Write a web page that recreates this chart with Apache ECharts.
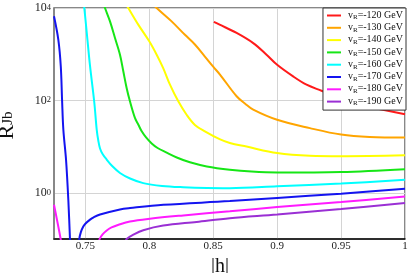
<!DOCTYPE html>
<html><head><meta charset="utf-8">
<script src="https://cdn.jsdelivr.net/npm/echarts@6/dist/echarts.min.js"></script>
<style>html,body{margin:0;padding:0;background:#fff}#c{width:409px;height:273px}</style>
</head><body><div id="c"></div>
<script>
// Legend categories (v_R in GeV, shown as negative)
const vR = [120, 130, 140, 150, 160, 170, 180, 190];
const colors = ['#ff1a1a', '#ffa500', '#ffff00', '#16e616', '#00ffff', '#1414f0', '#ff1aff', '#9a2fd4'];
const yTickExps = [0, 2, 4];

// Series values (|h|, R_Jb); a '-' breaks a curve into branches
const h120 = [0.8505, 0.855, 0.8683, 0.8813, 0.8917, 0.9, 0.9125, 0.923, 0.9347, 0.95, 0.975, 1.0];
const r120 = [5000, 4365, 2884, 1738, 977, 589, 331, 219, 162, 110, 70, 50];

const h130 = [0.800, 0.8058, 0.8175, 0.8279, 0.8357, 0.8435, 0.85, 0.8553, 0.8683, 0.875, 0.8813, 0.9, 0.9256, 0.95, 0.9723, 1.0];
const r130 = [14791, 10000, 5129, 2630, 1622, 891, 537, 363, 123, 85, 63.1, 38.0, 25.1, 18.2, 16.2, 15.8];

const h140 = [0.778, 0.7836, 0.7914, 0.8, 0.8058, 0.8109, 0.8162, 0.8227, 0.8292, 0.8357, 0.8435, 0.855, 0.863, 0.8761, 0.9, 0.9256, 0.95, 1.0];
const r140 = [18197, 10000, 4365, 1905, 977, 501, 219, 95.5, 49.0, 29.5, 21.4, 14.5, 12.0, 10.0, 7.24, 6.31, 6.17, 6.46];

const h150 = [0.763, 0.7654, 0.7693, 0.7732, 0.7771, 0.7797, 0.7823, 0.7849, 0.7888, 0.7914, 0.7941, 0.7975, 0.8019, 0.8065, 0.8136, 0.822, 0.8318, 0.845, 0.863, 0.88, 0.9, 0.95, 1.0];
const r150 = [15849, 10000, 5129, 2239, 977, 427, 186, 95.5, 41.7, 30.2, 21.4, 15.8, 11.7, 9.33, 7.41, 5.75, 4.57, 3.72, 3.16, 2.88, 2.75, 2.82, 3.24];

const h160 = [0.7487, 0.7492, 0.7511, 0.7537, 0.757, 0.7589, 0.7602, 0.7615, 0.7635, 0.7667, 0.771, 0.7771, 0.785, 0.7953, 0.81, 0.8266, 0.845, 0.863, 0.9, 0.95, 1.0];
const r160 = [12589, 10000, 2951, 550, 91.2, 23.4, 13.2, 9.12, 6.92, 5.25, 3.80, 2.69, 2.04, 1.62, 1.41, 1.32, 1.27, 1.26, 1.38, 1.58, 1.91];

const h170 = [0.7255, 0.7289, 0.7308, 0.7318, 0.7328, 0.7349, 0.7367, 0.738, 0.7386, 0.742, 0.7449, 0.7453, 0.7465, 0.7484, 0.75, 0.7537, 0.7565, 0.7615, 0.7771, 0.785, 0.811, 0.863, 0.9, 0.95, 1.0];
const r170 = [6607, 2042, 550, 105, 23.4, 5.25, 0.708, 0.1, 0.04, '-', 0.05, 0.1, 0.141, 0.186, 0.214, 0.263, 0.295, 0.339, 0.437, 0.468, 0.550, 0.661, 0.776, 0.955, 1.23];

const h180 = [0.7255, 0.7307, 0.7317, 0.745, 0.7598, 0.7612, 0.7635, 0.7665, 0.7705, 0.776, 0.7849, 0.8005, 0.8266, 0.863, 0.9, 0.95, 1.0];
const r180 = [0.55, 0.1, 0.063, '-', 0.063, 0.1, 0.126, 0.151, 0.178, 0.204, 0.240, 0.275, 0.324, 0.398, 0.490, 0.631, 0.832];

const h190 = [0.7812, 0.7823, 0.788, 0.7953, 0.8109, 0.837, 0.863, 0.9, 0.95, 1.0];
const r190 = [0.079, 0.1, 0.126, 0.155, 0.195, 0.234, 0.282, 0.339, 0.447, 0.603];

const hs = [h120, h130, h140, h150, h160, h170, h180, h190];
const rs = [r120, r130, r140, r150, r160, r170, r180, r190];

const SERIF = '"Liberation Serif", "DejaVu Serif", serif';
const names = vR.map(v => 'v_R=-' + v + ' GeV');

const series = vR.map((v, i) => ({
  name: names[i],
  type: 'line',
  data: hs[i].map((x, j) => [x, rs[i][j]]),
  showSymbol: false,
  smooth: 0.35,
  connectNulls: false,
  clip: true,
  lineStyle: { width: 2, color: colors[i] },
  itemStyle: { color: colors[i] },
  z: 2
}));

const chart = echarts.init(document.getElementById('c'), null, { renderer: 'canvas' });
chart.setOption({
  animation: false,
  backgroundColor: '#fff',
  grid: { left: 54, right: 4, top: 8, bottom: 34, show: true, borderColor: '#111', borderWidth: 1,
    containLabel: false, outerBoundsMode: 'none' },
  legend: {
    orient: 'vertical', right: 3, top: 8,
    icon: 'rect', itemWidth: 14, itemHeight: 2, itemGap: 1.3,
    padding: [2, 3, 3, 4],
    backgroundColor: '#fff', borderColor: '#333', borderWidth: 1, borderRadius: 0,
    data: names,
    formatter: n => {
      const m = n.match(/v_R(=.*)/);
      return '{a|v}{s|R}{a|' + m[1] + '}';
    },
    textStyle: {
      fontFamily: SERIF, fontSize: 10, color: '#111', padding: [0, 0, 0, 2],
      rich: {
        a: { fontFamily: SERIF, fontSize: 10, color: '#111', lineHeight: 11, padding: [0, 0, 1, 0], verticalAlign: 'top' },
        s: { fontFamily: SERIF, fontSize: 7, color: '#111', lineHeight: 7, verticalAlign: 'bottom' }
      }
    }
  },
  xAxis: {
    type: 'value', min: 0.7255, max: 1,
    name: '|h|', nameLocation: 'middle', nameGap: 16,
    nameTextStyle: { fontFamily: SERIF, fontSize: 20, color: '#111', padding: [0, 19, 0, 0] },
    axisLine: { show: true, onZero: false, lineStyle: { color: '#111', width: 1.5 } },
    axisTick: { show: false },
    splitLine: { show: true, lineStyle: { color: '#d4d4d4', width: 1 } },
    axisLabel: { showMinLabel: false, fontFamily: SERIF, fontSize: 11, color: '#222', margin: 2,
      formatter: v => String(+v.toFixed(3)) }
  },
  yAxis: {
    type: 'log', logBase: 10, min: 0.1, max: 10000,
    name: '{r|R}{s|Jb}', nameLocation: 'middle', nameGap: 31,
    nameTextStyle: {
      fontFamily: SERIF, color: '#111', padding: [0, 4, 0, 0],
      rich: {
        r: { fontFamily: SERIF, fontSize: 22, lineHeight: 20, padding: [0, 0, 6, 0], verticalAlign: 'top', color: '#111' },
        s: { fontFamily: SERIF, fontSize: 15, lineHeight: 14, verticalAlign: 'bottom', color: '#111' }
      }
    },
    axisLine: { show: true, lineStyle: { color: '#888', width: 2 } },
    axisTick: { show: false },
    splitLine: { show: true, lineStyle: { color: ['rgba(0,0,0,0)', '#d4d4d4'], width: 1 } },
    axisLabel: {
      margin: 3,
      formatter: v => {
        const e = Math.round(Math.log10(v));
        return yTickExps.indexOf(e) >= 0 ? '{b|10}{e|' + e + '}' : '';
      },
      rich: {
        b: { fontFamily: SERIF, fontSize: 12, lineHeight: 12, padding: [5, 0, 0, 0], verticalAlign: 'bottom', color: '#222' },
        e: { fontFamily: SERIF, fontSize: 8.5, lineHeight: 9, padding: [1, 0, 0, 0], verticalAlign: 'top', color: '#222' }
      }
    }
  },
  series: series
});
</script>
</body></html>
